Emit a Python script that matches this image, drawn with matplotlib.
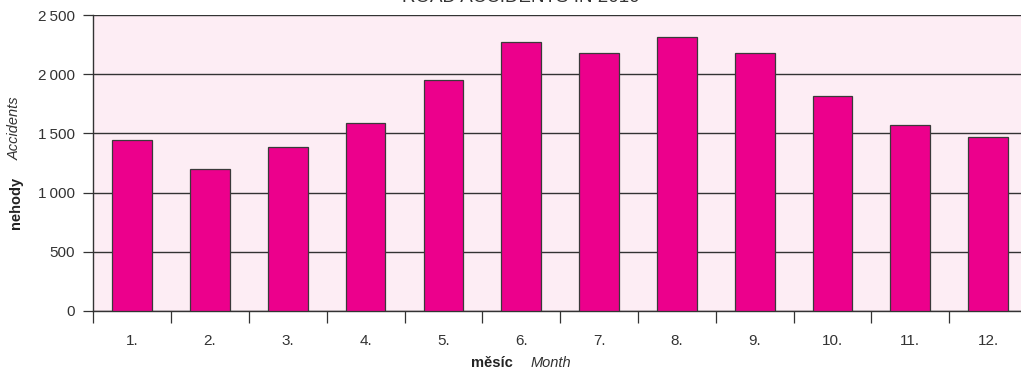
import matplotlib.pyplot as plt
import numpy as np

plt.rcParams['font.family'] = ['Liberation Sans', 'DejaVu Sans']

# data
months = ['1.', '2.', '3.', '4.', '5.', '6.', '7.', '8.', '9.', '10.', '11.', '12.']
accidents = [1445, 1199, 1385, 1589, 1953, 2274, 2181, 2314, 2183, 1817, 1572, 1473]
yticks = [0, 500, 1000, 1500, 2000, 2500]
ytick_labels = ['0', '500', '1\u2009000', '1\u2009500', '2\u2009000', '2\u2009500']

fig = plt.figure(figsize=(10.21, 3.69), dpi=100)
ax = fig.add_axes([93.3 / 1021, 1 - 310.7 / 369, 933.7 / 1021, 295.4 / 369])

x = np.arange(len(months))
ax.set_facecolor('#fdedf4')
ax.bar(x, accidents, width=0.51, color='#ec008c', edgecolor='#3a3a3a',
       linewidth=0.9, zorder=3)

ax.set_xlim(-0.5, len(months) - 0.5)
ax.set_ylim(0, 2500)

# gridlines
ax.set_yticks(yticks)
ax.set_yticklabels(ytick_labels)
ax.yaxis.grid(True, color='#333333', linewidth=1.0, zorder=1)
ax.tick_params(axis='y', direction='out', length=7.5, width=0.9, color='#333333',
               pad=6, labelsize=11, labelcolor='#333333')

# x ticks at boundaries, labels at centres
ax.set_xticks(np.arange(len(months) + 1) - 0.5)
ax.set_xticklabels([])
ax.set_xticks(x, minor=True)
ax.set_xticklabels(months, minor=True)
ax.tick_params(axis='x', which='major', direction='out', length=8.5, width=0.9,
               color='#333333')
ax.tick_params(axis='x', which='minor', length=0, pad=17, labelsize=11,
               labelcolor='#333333')

for s in ['top', 'right']:
    ax.spines[s].set_visible(False)
ax.spines['left'].set_color('#333333')
ax.spines['left'].set_linewidth(1.0)
ax.spines['bottom'].set_color('#333333')
ax.spines['bottom'].set_linewidth(1.0)

# title, mostly cut off at the top edge as in the source
fig.text(0.51, 1 - 1.5 / 369, 'ROAD ACCIDENTS IN 2010', ha='center', va='baseline',
         fontsize=13.5, color='#333333')

# axis labels
fig.text(16 / 1021, 1 - 203 / 369, 'nehody', rotation=90, ha='center', va='center',
         fontsize=10.5, fontweight='bold', color='#222222')
fig.text(15 / 1021, 1 - 128 / 369, 'Accidents', rotation=90, ha='center', va='center',
         fontsize=10.5, style='italic', color='#333333')
fig.text(492 / 1021, 1 - 363 / 369, 'měsíc', ha='center', va='center',
         fontsize=10.5, fontweight='bold', color='#222222')
fig.text(551 / 1021, 1 - 363 / 369, 'Month', ha='center', va='center',
         fontsize=10.5, style='italic', color='#333333')

fig.savefig('out.png', dpi=100)
